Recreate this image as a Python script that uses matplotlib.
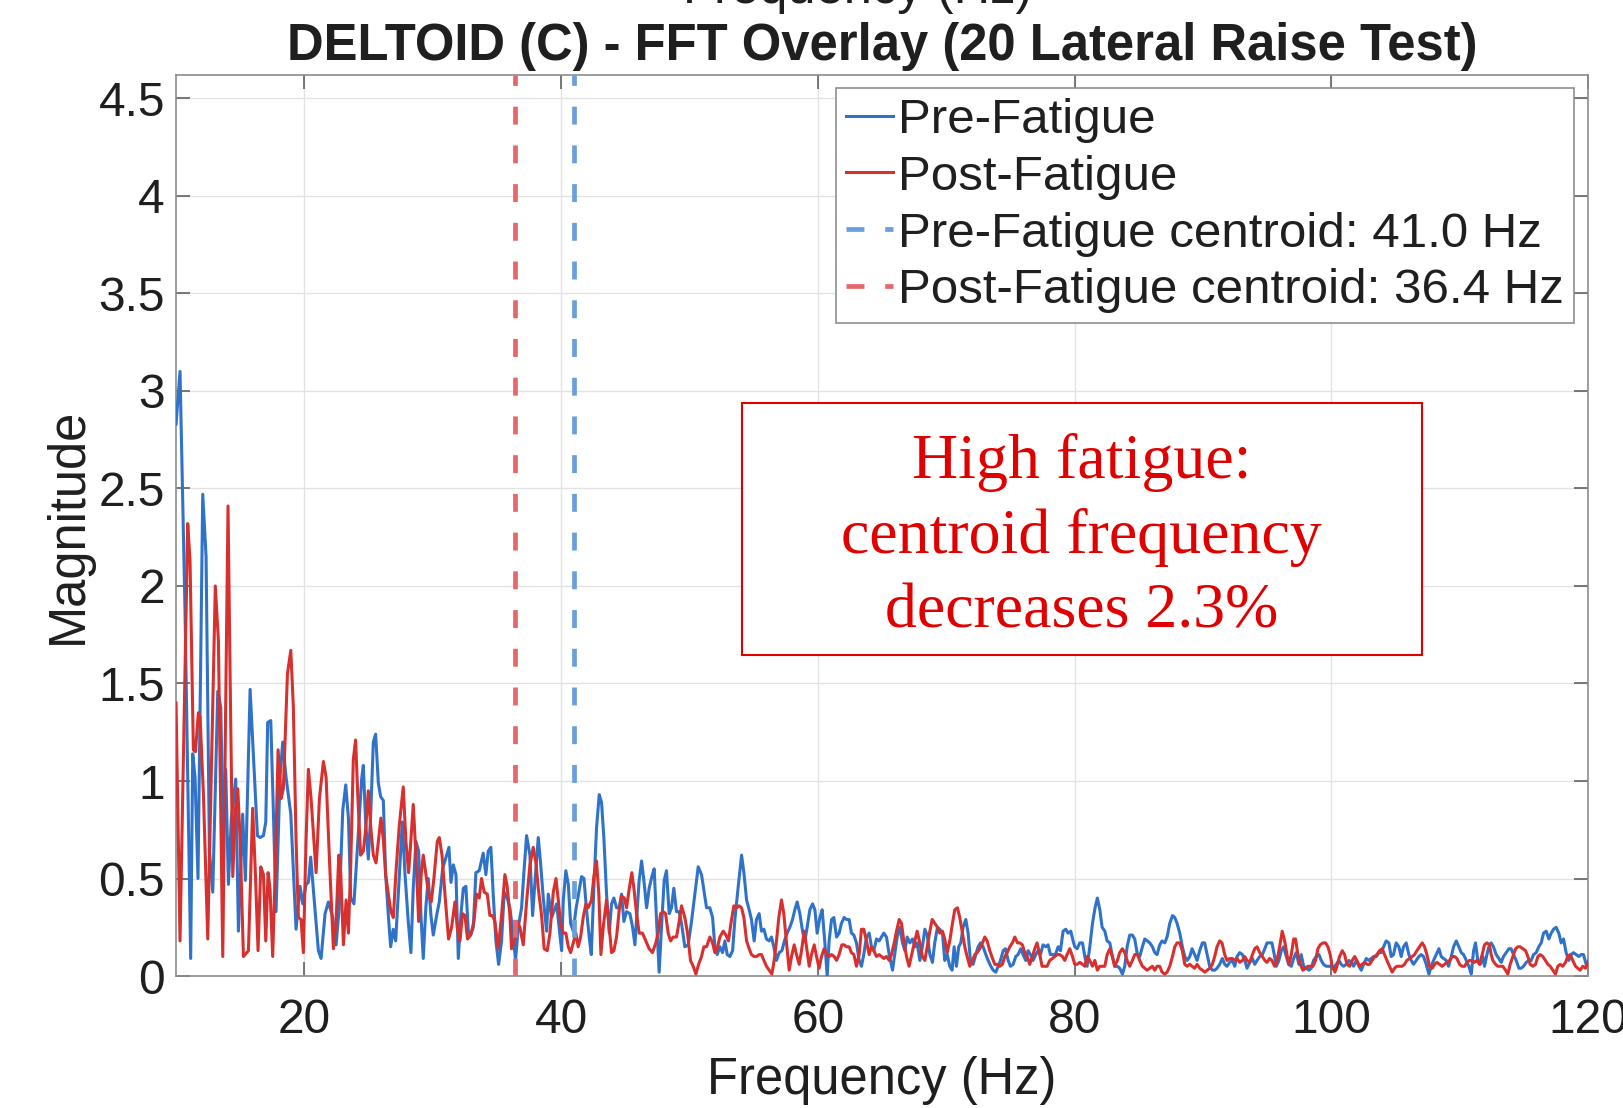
import matplotlib
matplotlib.use("Agg")
import matplotlib.pyplot as plt
from matplotlib.patches import Rectangle

# ---------------- data ----------------
pre_freq = [10.00, 10.31, 10.70, 11.14, 11.30, 11.48, 11.71, 12.08, 12.34, 12.60, 12.86, 13.25, 13.48, 13.69,
            13.87, 14.08, 14.31, 14.65, 14.86, 15.19, 15.40, 15.77, 16.03, 16.34, 16.55, 16.81, 16.99, 17.14,
            17.38, 17.58, 17.79, 18.10, 18.31, 18.57, 18.94, 19.35, 19.66, 19.87, 20.13, 20.31, 20.49, 20.75,
            21.09, 21.30, 21.61, 21.87, 22.21, 22.47, 22.70, 22.99, 23.22, 23.43, 23.61, 23.86, 24.46, 24.59,
            24.77, 24.98, 25.16, 25.37, 25.55, 25.76, 25.94, 26.15, 26.33, 26.54, 26.72, 26.92, 27.11, 27.37,
            27.63, 27.83, 28.09, 28.30, 28.48, 28.69, 28.90, 29.08, 29.26, 29.47, 29.65, 29.86, 30.04, 30.30,
            30.51, 30.77, 31.08, 31.26, 31.42, 31.60, 31.81, 31.99, 32.19, 32.38, 32.58, 32.77, 32.95, 33.16,
            33.36, 33.62, 33.93, 34.14, 34.32, 34.53, 34.71, 34.92, 35.13, 35.36, 35.57, 35.80, 36.01, 36.27,
            36.45, 36.66, 36.92, 37.10, 37.31, 37.57, 37.78, 37.96, 38.22, 38.40, 38.61, 38.87, 39.00, 39.26,
            39.65, 40.04, 40.17, 40.37, 40.56, 40.74, 40.95, 41.15, 41.41, 41.59, 41.78, 41.98, 42.19, 42.35,
            42.55, 42.76, 42.97, 43.15, 43.33, 43.54, 43.75, 43.93, 44.11, 44.32, 44.53, 44.71, 44.89, 45.10,
            45.36, 45.57, 45.75, 45.93, 46.08, 46.27, 46.45, 46.66, 46.86, 47.07, 47.25, 47.44, 47.64, 47.82,
            48.03, 48.21, 48.42, 48.60, 48.78, 48.99, 49.20, 49.38, 49.64, 49.90, 50.16, 50.42, 50.68, 50.94,
            51.12, 51.33, 51.59, 51.80, 51.98, 52.16, 52.37, 52.58, 52.76, 52.94, 53.15, 53.36, 53.54, 53.80,
            54.06, 54.24, 54.45, 54.65, 54.83, 55.04, 55.22, 55.43, 55.61, 55.80, 56.00, 56.21, 56.39, 56.57,
            56.78, 56.99, 57.20, 57.40, 57.61, 57.82, 58.03, 58.21, 58.39, 58.60, 58.81, 58.99, 59.17, 59.38,
            59.59, 59.77, 59.95, 60.16, 60.34, 60.55, 60.73, 60.88, 61.07, 61.25, 61.46, 61.66, 61.84, 62.05,
            62.23, 62.44, 62.62, 62.81, 63.01, 63.22, 63.40, 63.58, 63.79, 64.00, 64.18, 64.36, 64.57, 64.78,
            64.96, 65.14, 65.35, 65.56, 65.82, 65.99, 66.18, 66.39, 66.60, 66.78, 66.96, 67.17, 67.38, 67.56,
            67.74, 67.95, 68.15, 68.34, 68.52, 68.73, 68.93, 69.11, 69.32, 69.50, 69.71, 69.89, 70.08, 70.28,
            70.46, 70.62, 70.80, 70.98, 71.14, 71.32, 71.53, 71.71, 71.89, 72.10, 72.31, 72.49, 72.67, 72.88,
            73.09, 73.27, 73.48, 73.66, 73.87, 74.05, 74.23, 74.44, 74.62, 74.83, 75.01, 75.22, 75.42, 75.60,
            75.81, 75.99, 76.20, 76.38, 76.57, 76.77, 76.98, 77.16, 77.34, 77.55, 77.76, 77.94, 78.12, 78.33,
            78.51, 78.72, 78.90, 79.11, 79.32, 79.50, 79.71, 79.89, 80.02, 80.20, 80.41, 80.62, 80.80, 80.98,
            81.19, 81.40, 81.60, 81.78, 81.97, 82.15, 82.36, 82.54, 82.75, 82.95, 83.13, 83.34, 83.52, 83.73,
            83.91, 84.10, 84.30, 84.51, 84.69, 84.90, 85.08, 85.29, 85.47, 85.68, 85.86, 86.07, 86.25, 86.43,
            86.64, 86.82, 87.03, 87.21, 87.42, 87.63, 87.81, 87.99, 88.20, 88.40, 88.59, 88.77, 88.98, 89.16,
            89.36, 89.55, 89.75, 89.96, 90.14, 90.33, 90.53, 90.74, 90.92, 91.10, 91.31, 91.52, 91.70, 91.88,
            92.09, 92.30, 92.48, 92.66, 92.87, 93.08, 93.26, 93.44, 93.65, 93.86, 94.04, 94.22, 94.43, 94.64,
            94.82, 95.00, 95.20, 95.38, 95.56, 95.72, 95.92, 96.11, 96.29, 96.50, 96.68, 96.89, 97.07, 97.27,
            97.48, 97.66, 97.85, 98.05, 98.26, 98.44, 98.62, 98.83, 99.04, 99.22, 99.40, 99.61, 99.82, 100.00,
            100.18, 100.39, 100.60, 100.78, 100.96, 101.17, 101.38, 101.56, 101.74, 101.95, 102.16, 102.34,
            102.52, 102.73, 102.93, 103.12, 103.30, 103.51, 103.71, 103.89, 104.08, 104.28, 104.49, 104.67,
            104.85, 105.06, 105.27, 105.45, 105.63, 105.84, 106.05, 106.23, 106.41, 106.62, 106.83, 107.01,
            107.19, 107.40, 107.61, 107.79, 107.97, 108.18, 108.39, 108.57, 108.75, 108.96, 109.14, 109.35,
            109.53, 109.74, 109.94, 110.13, 110.31, 110.52, 110.72, 110.91, 111.09, 111.24, 111.42, 111.61,
            111.81, 111.94, 112.13, 112.28, 112.46, 112.64, 112.85, 113.06, 113.24, 113.42, 113.63, 113.84,
            114.02, 114.20, 114.41, 114.62, 114.80, 114.98, 115.19, 115.40, 115.58, 115.76, 115.97, 116.17,
            116.36, 116.54, 116.75, 116.95, 117.14, 117.32, 117.52, 117.73, 117.91, 118.10, 118.30, 118.51,
            118.69, 118.87, 119.08, 119.29, 119.47, 119.65, 119.86, 120.05]
pre_mag = [2.83, 3.10, 1.87, 0.09, 1.14, 1.02, 0.50, 2.47, 2.15, 0.64, 0.43, 1.46, 1.38, 0.72,
           1.06, 0.47, 0.81, 1.01, 0.23, 0.83, 0.49, 1.47, 1.13, 0.72, 0.71, 0.72, 0.79, 1.30,
           1.31, 0.85, 0.33, 1.02, 1.20, 1.02, 0.83, 0.24, 0.46, 0.37, 0.47, 0.48, 0.61, 0.40,
           0.13, 0.09, 0.32, 0.38, 0.30, 0.16, 0.34, 0.85, 0.98, 0.81, 0.40, 0.37, 1.01, 1.08,
           0.79, 0.60, 0.82, 1.20, 1.24, 0.99, 0.92, 0.90, 0.52, 0.31, 0.15, 0.24, 0.18, 0.48,
           0.79, 0.53, 0.28, 0.12, 0.45, 0.69, 0.64, 0.31, 0.09, 0.36, 0.50, 0.31, 0.21, 0.31,
           0.38, 0.55, 0.62, 0.66, 0.48, 0.57, 0.52, 0.09, 0.31, 0.45, 0.46, 0.23, 0.21, 0.25,
           0.53, 0.54, 0.63, 0.52, 0.64, 0.66, 0.42, 0.18, 0.06, 0.18, 0.43, 0.40, 0.35, 0.21,
           0.08, 0.25, 0.35, 0.53, 0.72, 0.62, 0.31, 0.48, 0.71, 0.58, 0.40, 0.23, 0.42, 0.30,
           0.37, 0.13, 0.39, 0.54, 0.47, 0.27, 0.23, 0.34, 0.44, 0.51, 0.50, 0.34, 0.20, 0.11,
           0.45, 0.76, 0.93, 0.89, 0.71, 0.42, 0.22, 0.37, 0.40, 0.35, 0.35, 0.42, 0.28, 0.33,
           0.32, 0.25, 0.16, 0.34, 0.49, 0.59, 0.49, 0.35, 0.45, 0.51, 0.55, 0.28, 0.02, 0.25,
           0.49, 0.54, 0.32, 0.35, 0.45, 0.33, 0.33, 0.27, 0.15, 0.16, 0.28, 0.42, 0.56, 0.52,
           0.44, 0.35, 0.35, 0.30, 0.15, 0.11, 0.15, 0.12, 0.18, 0.11, 0.10, 0.13, 0.29, 0.46,
           0.62, 0.53, 0.39, 0.34, 0.29, 0.18, 0.29, 0.32, 0.23, 0.24, 0.19, 0.18, 0.20, 0.15,
           0.08, 0.12, 0.13, 0.18, 0.22, 0.25, 0.29, 0.34, 0.38, 0.32, 0.23, 0.18, 0.25, 0.34,
           0.37, 0.34, 0.22, 0.30, 0.34, 0.17, 0.00, 0.18, 0.29, 0.30, 0.20, 0.22, 0.27, 0.30,
           0.29, 0.29, 0.22, 0.21, 0.17, 0.08, 0.05, 0.11, 0.20, 0.22, 0.15, 0.13, 0.19, 0.18,
           0.20, 0.22, 0.20, 0.11, 0.03, 0.11, 0.20, 0.25, 0.17, 0.13, 0.20, 0.17, 0.19, 0.15,
           0.17, 0.08, 0.15, 0.24, 0.21, 0.11, 0.07, 0.17, 0.25, 0.24, 0.22, 0.08, 0.11, 0.05,
           0.03, 0.15, 0.05, 0.15, 0.17, 0.25, 0.29, 0.22, 0.08, 0.06, 0.11, 0.15, 0.17, 0.15,
           0.11, 0.08, 0.05, 0.03, 0.02, 0.05, 0.08, 0.13, 0.14, 0.08, 0.05, 0.06, 0.10, 0.11,
           0.14, 0.11, 0.08, 0.13, 0.11, 0.08, 0.11, 0.13, 0.11, 0.16, 0.15, 0.16, 0.11, 0.11,
           0.11, 0.15, 0.13, 0.23, 0.24, 0.22, 0.23, 0.18, 0.15, 0.14, 0.17, 0.17, 0.10, 0.05,
           0.15, 0.27, 0.35, 0.40, 0.34, 0.25, 0.23, 0.18, 0.17, 0.10, 0.05, 0.05, 0.04, 0.01,
           0.05, 0.15, 0.21, 0.21, 0.19, 0.11, 0.10, 0.15, 0.19, 0.18, 0.17, 0.15, 0.12, 0.11,
           0.16, 0.18, 0.17, 0.20, 0.27, 0.31, 0.30, 0.27, 0.22, 0.15, 0.10, 0.08, 0.10, 0.14,
           0.11, 0.08, 0.13, 0.17, 0.17, 0.11, 0.05, 0.03, 0.03, 0.04, 0.06, 0.09, 0.06, 0.05,
           0.07, 0.08, 0.05, 0.10, 0.12, 0.11, 0.08, 0.04, 0.07, 0.09, 0.06, 0.08, 0.10, 0.11,
           0.14, 0.17, 0.17, 0.17, 0.11, 0.05, 0.08, 0.13, 0.15, 0.10, 0.06, 0.05, 0.09, 0.12,
           0.06, 0.11, 0.05, 0.04, 0.03, 0.04, 0.08, 0.10, 0.11, 0.08, 0.06, 0.05, 0.05, 0.05,
           0.04, 0.06, 0.08, 0.06, 0.05, 0.06, 0.08, 0.07, 0.05, 0.08, 0.05, 0.03,
           0.06, 0.09, 0.08, 0.09, 0.10, 0.10, 0.12, 0.12, 0.15, 0.18, 0.17, 0.10,
           0.11, 0.17, 0.15, 0.10, 0.15, 0.17, 0.11, 0.08, 0.06, 0.08, 0.10, 0.11,
           0.10, 0.06, 0.01, 0.05, 0.08, 0.11, 0.14, 0.10, 0.09, 0.08, 0.05, 0.10,
           0.15, 0.18, 0.15, 0.12, 0.11, 0.08, 0.05, 0.01, 0.13, 0.17, 0.08, 0.06,
           0.10, 0.05, 0.11, 0.15, 0.17, 0.15, 0.11, 0.09, 0.07, 0.10, 0.12, 0.14,
           0.14, 0.11, 0.08, 0.04, 0.04, 0.05, 0.07, 0.08, 0.08, 0.11, 0.12, 0.15,
           0.17, 0.22, 0.23, 0.19, 0.22, 0.24, 0.25, 0.22, 0.17, 0.19, 0.12, 0.08,
           0.11, 0.12, 0.11, 0.10, 0.11, 0.11, 0.06, 0.06]

post_freq = [10.00, 10.31, 10.91, 11.09, 11.35, 11.51, 11.74, 11.87, 12.13, 12.47, 12.78, 13.06, 13.30, 13.64,
             14.05, 14.21, 14.42, 14.62, 14.81, 14.99, 15.25, 15.64, 15.97, 16.18, 16.39, 16.60, 16.81, 16.99,
             17.17, 17.32, 17.53, 17.74, 17.95, 18.18, 18.36, 18.68, 18.94, 19.14, 19.35, 19.53, 19.74, 19.92,
             20.13, 20.31, 20.52, 20.91, 21.17, 21.48, 21.69, 21.95, 22.26, 22.47, 22.68, 22.83, 23.04, 23.25,
             23.43, 23.61, 23.81, 23.99, 24.17, 24.38, 24.59, 24.77, 24.98, 25.16, 25.37, 25.58, 25.78, 25.96,
             26.15, 26.33, 26.54, 26.74, 26.93, 27.13, 27.39, 27.70, 27.91, 28.12, 28.30, 28.48, 28.69, 28.90,
             29.11, 29.26, 29.47, 29.68, 29.88, 30.09, 30.35, 30.51, 30.72, 30.95, 31.23, 31.47, 31.73, 31.91,
             32.12, 32.32, 32.51, 32.71, 32.95, 33.21, 33.41, 33.62, 33.80, 34.01, 34.25, 34.45, 34.66, 34.84,
             35.10, 35.36, 35.62, 35.80, 36.01, 36.14, 36.35, 36.58, 36.79, 37.05, 37.31, 37.57, 37.83, 38.04,
             38.22, 38.48, 38.68, 38.92, 39.13, 39.39, 39.60, 39.78, 39.96, 40.17, 40.37, 40.56, 40.74, 40.95,
             41.15, 41.33, 41.52, 41.72, 41.93, 42.11, 42.37, 42.55, 42.76, 42.94, 43.10, 43.28, 43.54, 43.75,
             43.93, 44.11, 44.32, 44.53, 44.71, 44.92, 45.10, 45.31, 45.51, 45.67, 45.88, 46.08, 46.34, 46.60,
             46.86, 47.12, 47.38, 47.56, 47.75, 47.95, 48.14, 48.34, 48.53, 48.73, 48.99, 49.20, 49.38, 49.64,
             49.85, 50.08, 50.29, 50.50, 50.71, 50.94, 51.12, 51.33, 51.59, 51.80, 51.98, 52.16, 52.37, 52.63,
             52.84, 53.04, 53.23, 53.46, 53.67, 53.87, 54.06, 54.24, 54.45, 54.65, 54.83, 55.04, 55.22, 55.43,
             55.61, 55.80, 56.00, 56.21, 56.42, 56.60, 56.78, 56.96, 57.17, 57.35, 57.56, 57.77, 57.95, 58.16,
             58.34, 58.55, 58.73, 58.94, 59.12, 59.33, 59.51, 59.72, 59.90, 60.10, 60.29, 60.49, 60.68, 60.88,
             61.07, 61.27, 61.46, 61.66, 61.87, 62.05, 62.23, 62.44, 62.62, 62.81, 63.01, 63.22, 63.40, 63.58,
             63.79, 64.00, 64.18, 64.36, 64.57, 64.78, 64.96, 65.14, 65.35, 65.56, 65.74, 65.95, 66.13, 66.34,
             66.52, 66.70, 66.91, 67.11, 67.38, 67.56, 67.74, 67.95, 68.15, 68.34, 68.52, 68.73, 68.91, 69.11,
             69.32, 69.50, 69.71, 69.89, 70.08, 70.28, 70.49, 70.67, 70.88, 71.06, 71.27, 71.45, 71.63, 71.84,
             72.05, 72.23, 72.41, 72.62, 72.83, 73.01, 73.19, 73.40, 73.61, 73.79, 73.97, 74.18, 74.38, 74.57,
             74.75, 74.96, 75.16, 75.35, 75.55, 75.73, 75.94, 76.12, 76.31, 76.51, 76.72, 76.90, 77.08, 77.29,
             77.47, 77.68, 77.86, 78.07, 78.28, 78.46, 78.64, 78.85, 79.06, 79.24, 79.42, 79.63, 79.84, 80.02,
             80.20, 80.41, 80.62, 80.80, 80.98, 81.19, 81.40, 81.58, 81.78, 81.97, 82.15, 82.36, 82.54, 82.75,
             82.95, 83.13, 83.34, 83.52, 83.73, 83.91, 84.10, 84.30, 84.51, 84.69, 84.90, 85.08, 85.29, 85.47,
             85.65, 85.86, 86.07, 86.25, 86.43, 86.64, 86.82, 87.03, 87.21, 87.42, 87.63, 87.81, 87.99, 88.20,
             88.40, 88.59, 88.77, 88.98, 89.16, 89.36, 89.55, 89.75, 89.96, 90.14, 90.33, 90.53, 90.74, 90.92,
             91.10, 91.31, 91.49, 91.70, 91.88, 92.09, 92.30, 92.48, 92.66, 92.87, 93.08, 93.26, 93.44, 93.65,
             93.86, 94.04, 94.22, 94.43, 94.64, 94.82, 94.99, 95.20, 95.38, 95.59, 95.77, 95.98, 96.18, 96.37,
             96.55, 96.70, 96.89, 97.07, 97.22, 97.40, 97.59, 97.79, 98.00, 98.18, 98.36, 98.57, 98.78, 98.96,
             99.14, 99.35, 99.56, 99.74, 99.92, 100.08, 100.29, 100.44, 100.65, 100.86, 101.04, 101.22, 101.43,
             101.64, 101.82, 102.00, 102.21, 102.41, 102.60, 102.78, 102.99, 103.19, 103.38, 103.56, 103.76,
             103.97, 104.15, 104.34, 104.54, 104.75, 104.93, 105.11, 105.32, 105.53, 105.71, 105.89, 106.10,
             106.31, 106.49, 106.67, 106.88, 107.09, 107.27, 107.45, 107.66, 107.87, 108.05, 108.23, 108.44,
             108.65, 108.83, 109.01, 109.22, 109.43, 109.61, 109.79, 110.00, 110.18, 110.39, 110.57, 110.78,
             110.98, 111.16, 111.35, 111.55, 111.76, 111.94, 112.13, 112.33, 112.46, 112.59, 112.80, 112.98,
             113.16, 113.37, 113.58, 113.76, 113.94, 114.15, 114.36, 114.54, 114.72, 114.93, 115.14, 115.32,
             115.50, 115.71, 115.92, 116.10, 116.28, 116.49, 116.69, 116.88, 117.06, 117.27, 117.47, 117.65,
             117.84, 118.04, 118.25, 118.43, 118.62, 118.82, 119.03, 119.21, 119.39, 119.60, 119.81, 120.05]
post_mag = [1.40, 0.18, 2.32, 2.13, 1.16, 1.15, 1.35, 1.33, 0.94, 0.19, 1.13, 2.00, 1.72, 0.10,
            2.41, 1.55, 0.51, 0.85, 0.96, 0.70, 0.10, 0.13, 0.86, 0.53, 0.13, 0.56, 0.52, 0.18,
            0.53, 0.45, 0.10, 0.57, 1.16, 0.91, 0.96, 1.55, 1.67, 1.38, 0.70, 0.30, 0.29, 0.12,
            0.70, 1.06, 0.91, 0.53, 0.91, 1.10, 1.02, 0.60, 0.14, 0.28, 0.62, 0.53, 0.16, 0.39,
            0.22, 0.57, 1.11, 1.21, 0.91, 0.62, 0.64, 0.75, 0.95, 0.77, 0.62, 0.58, 0.70, 0.81,
            0.70, 0.52, 0.42, 0.33, 0.30, 0.53, 0.77, 0.97, 0.69, 0.53, 0.70, 0.88, 0.62, 0.28,
            0.53, 0.62, 0.52, 0.42, 0.38, 0.50, 0.69, 0.71, 0.62, 0.42, 0.19, 0.25, 0.38, 0.25,
            0.18, 0.32, 0.31, 0.19, 0.21, 0.28, 0.42, 0.40, 0.50, 0.43, 0.42, 0.31, 0.31, 0.28,
            0.14, 0.31, 0.52, 0.46, 0.31, 0.14, 0.18, 0.28, 0.25, 0.16, 0.38, 0.57, 0.66, 0.58,
            0.45, 0.31, 0.14, 0.13, 0.22, 0.43, 0.50, 0.39, 0.27, 0.22, 0.22, 0.15, 0.12, 0.17,
            0.22, 0.15, 0.20, 0.30, 0.37, 0.35, 0.39, 0.51, 0.59, 0.42, 0.11, 0.25, 0.39, 0.25,
            0.12, 0.13, 0.20, 0.34, 0.41, 0.40, 0.35, 0.45, 0.53, 0.45, 0.32, 0.22, 0.22, 0.18,
            0.14, 0.12, 0.17, 0.22, 0.32, 0.33, 0.32, 0.22, 0.18, 0.20, 0.20, 0.28, 0.36, 0.30,
            0.22, 0.08, 0.05, 0.01, 0.06, 0.10, 0.15, 0.15, 0.20, 0.17, 0.12, 0.14, 0.20, 0.23,
            0.21, 0.18, 0.27, 0.36, 0.35, 0.36, 0.35, 0.30, 0.18, 0.14, 0.11, 0.10, 0.10, 0.11,
            0.11, 0.08, 0.05, 0.03, 0.01, 0.08, 0.18, 0.30, 0.39, 0.32, 0.17, 0.03, 0.10, 0.16,
            0.11, 0.06, 0.13, 0.23, 0.15, 0.05, 0.11, 0.16, 0.10, 0.04, 0.10, 0.14, 0.11, 0.10,
            0.11, 0.10, 0.08, 0.11, 0.16, 0.16, 0.15, 0.15, 0.12, 0.11, 0.05, 0.11, 0.24, 0.24,
            0.18, 0.11, 0.15, 0.13, 0.10, 0.11, 0.10, 0.09, 0.10, 0.08, 0.11, 0.17, 0.23, 0.29,
            0.27, 0.18, 0.10, 0.05, 0.13, 0.18, 0.23, 0.17, 0.10, 0.08, 0.15, 0.23, 0.29, 0.27,
            0.25, 0.22, 0.23, 0.19, 0.12, 0.18, 0.27, 0.34, 0.35, 0.30, 0.22, 0.15, 0.10, 0.05,
            0.08, 0.11, 0.12, 0.14, 0.17, 0.20, 0.18, 0.13, 0.09, 0.06, 0.06, 0.05, 0.06, 0.10,
            0.12, 0.15, 0.17, 0.20, 0.17, 0.17, 0.16, 0.12, 0.10, 0.06, 0.10, 0.14, 0.17, 0.11,
            0.05, 0.05, 0.05, 0.08, 0.09, 0.10, 0.11, 0.11, 0.10, 0.08, 0.11, 0.14, 0.10, 0.06,
            0.06, 0.07, 0.06, 0.05, 0.10, 0.08, 0.05, 0.08, 0.03, 0.05, 0.05, 0.05, 0.11, 0.14,
            0.10, 0.05, 0.08, 0.12, 0.14, 0.12, 0.08, 0.05, 0.08, 0.11, 0.11, 0.08, 0.05, 0.04,
            0.03, 0.04, 0.05, 0.03, 0.05, 0.05, 0.02, 0.01, 0.02, 0.05, 0.10, 0.15, 0.17, 0.17,
            0.13, 0.06, 0.05, 0.06, 0.05, 0.04, 0.06, 0.04, 0.03, 0.02, 0.03, 0.04, 0.06, 0.10,
            0.15, 0.18, 0.17, 0.11, 0.08, 0.09, 0.09, 0.08, 0.09, 0.07, 0.08, 0.10, 0.08, 0.07,
            0.11, 0.14, 0.15, 0.12, 0.10, 0.08, 0.07, 0.09, 0.08, 0.05, 0.08, 0.15, 0.23, 0.18,
            0.11, 0.06, 0.11, 0.19, 0.19, 0.11, 0.06, 0.03, 0.04, 0.05, 0.05, 0.05, 0.08, 0.14,
            0.16, 0.17, 0.17, 0.15, 0.11, 0.05, 0.02, 0.05, 0.10, 0.13, 0.11, 0.06, 0.05,
            0.08, 0.10, 0.08, 0.05, 0.06, 0.07, 0.06, 0.06, 0.08, 0.10, 0.11, 0.13,
            0.14, 0.11, 0.08, 0.05, 0.02, 0.04, 0.05, 0.05, 0.05, 0.06, 0.08, 0.09,
            0.10, 0.11, 0.13, 0.15, 0.17, 0.15, 0.11, 0.05, 0.04, 0.06, 0.07, 0.06,
            0.05, 0.06, 0.07, 0.08, 0.10, 0.10, 0.09, 0.06, 0.05, 0.05, 0.07, 0.08,
            0.08, 0.07, 0.08, 0.06, 0.11, 0.16, 0.17, 0.16, 0.11, 0.08, 0.06, 0.05,
            0.05, 0.05, 0.03, 0.01, 0.06, 0.10, 0.14, 0.15, 0.15, 0.14, 0.13, 0.10,
            0.06, 0.05, 0.06, 0.10, 0.11, 0.10, 0.08, 0.06, 0.05, 0.03, 0.01, 0.05,
            0.06, 0.05, 0.07, 0.10, 0.11, 0.08, 0.05, 0.04, 0.03, 0.05, 0.04, 0.08]

pre_centroid = 41.0
post_centroid = 36.4
decrease_pct = 2.3

series_labels = ["Pre-Fatigue", "Post-Fatigue"]
title_text = "DELTOID (C) - FFT Overlay (20 Lateral Raise Test)"
x_ticks = [20, 40, 60, 80, 100, 120]
y_ticks = [0, 0.5, 1, 1.5, 2, 2.5, 3, 3.5, 4, 4.5]
y_tick_labels = ["0", "0.5", "1", "1.5", "2", "2.5", "3", "3.5", "4", "4.5"]

# ---------------- style ----------------
SANS = ["Liberation Sans", "DejaVu Sans"]
plt.rcParams["font.family"] = SANS
blue = "#2f72c9"
red = "#d8302f"
blue_dash = "#6a9fdc"
red_dash = "#e5676a"
annot_red = "#e00000"
txt = "#1f1f1f"

fig = plt.figure(figsize=(16.24, 11.08), dpi=100)
ax = fig.add_axes([0.1084, 0.1191, 0.8694, 0.8132])

ax.plot(pre_freq, pre_mag, color=blue, lw=2.2, label=series_labels[0], zorder=3)
ax.plot(post_freq, post_mag, color=red, lw=2.2, label=series_labels[1], zorder=4)
ax.axvline(pre_centroid, color=blue_dash, lw=3.4, dashes=(3.8, 4.4), zorder=5,
           label=f"{series_labels[0]} centroid: {pre_centroid:.1f} Hz")
ax.axvline(post_centroid, color=red_dash, lw=3.4, dashes=(3.8, 4.4), zorder=5,
           label=f"{series_labels[1]} centroid: {post_centroid:.1f} Hz")

ax.set_xlim(10, 120)
ax.set_ylim(0, 4.62)
ax.set_xticks(x_ticks)
ax.set_yticks(y_ticks)
ax.set_yticklabels(y_tick_labels)
ax.grid(True, color="#e3e3e3", lw=1.0, zorder=0)
ax.set_axisbelow(True)
for s in ax.spines.values():
    s.set_color("#8c8c8c")
    s.set_linewidth(1.2)
ax.tick_params(axis="both", direction="in", length=10, width=1.1, color="#555555",
               labelsize=34.5, labelcolor=txt, top=True, right=True)
ax.tick_params(axis="x", pad=16)
ax.tick_params(axis="y", pad=8)

ax.set_xlabel("Frequency (Hz)", fontsize=36.5, color=txt, labelpad=9)
ax.set_ylabel("Magnitude", fontsize=36.5, color=txt, labelpad=4)
ax.set_title(title_text, fontsize=36.5, fontweight="bold", color=txt, pad=11)

# ghost label of an upper plot, cut at the top edge
fig.text(0.528, 1 - 3.5 / 1108, "Frequency (Hz)", fontsize=36.5, color=txt,
         ha="center", va="baseline")

leg = ax.legend(loc="upper right", bbox_to_anchor=(0.990, 0.9856), fontsize=35.5,
                handlelength=0.95, handletextpad=0.1, labelspacing=0.24,
                borderpad=0.2, borderaxespad=0.0, fancybox=False, framealpha=1)
leg.get_frame().set_edgecolor("#8f8f8f")
leg.get_frame().set_linewidth(1.2)
for t in leg.get_texts():
    t.set_color(txt)

# annotation box
ax.add_patch(Rectangle((0.4006, 0.3563), 0.4818, 0.2797, transform=ax.transAxes,
                       fill=True, facecolor="white", edgecolor=annot_red, lw=1.5, zorder=6))
ax.text(0.6415, 0.487,
        f"High fatigue:\ncentroid frequency\ndecreases {decrease_pct:.1f}%",
        transform=ax.transAxes, ha="center", va="center", ma="center",
        fontsize=46, color=annot_red, family=["Liberation Serif", "DejaVu Serif"],
        linespacing=1.37, zorder=7)

fig.savefig("out.png", dpi=100)
